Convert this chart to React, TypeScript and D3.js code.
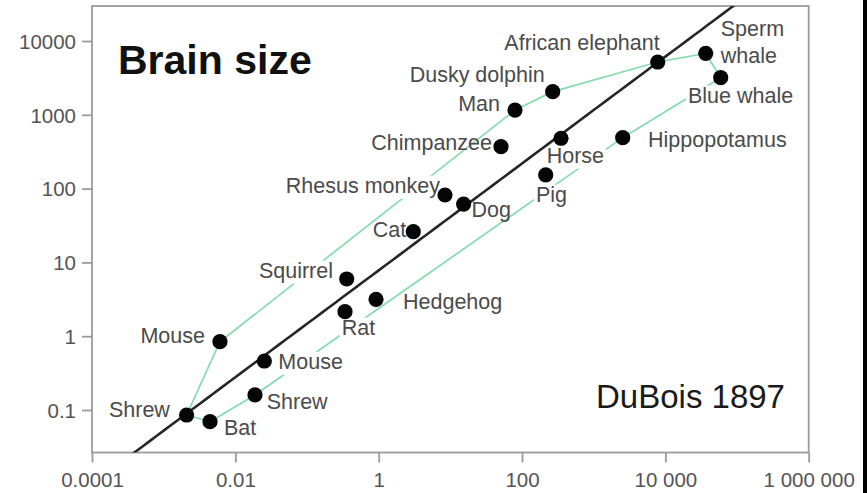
import React, { useEffect, useRef } from "react";
import * as d3 from "d3";

// Brain mass (g) against body mass (kg), mammals, after DuBois 1897
const ANIMALS = [
  "Shrew", "Bat", "Mouse", "Shrew", "Mouse", "Rat", "Squirrel", "Hedgehog",
  "Cat", "Rhesus monkey", "Dog", "Chimpanzee", "Man", "Pig", "Dusky dolphin",
  "Horse", "Hippopotamus", "African elephant", "Sperm whale", "Blue whale",
];
const BODY_MASS = [
  0.00209, 0.00443, 0.0061, 0.0188, 0.0254, 0.339, 0.358, 0.918,
  3.04, 8.42, 15.3, 50.9, 79.8, 214, 268,
  350, 2540, 7820, 36600, 59200,
];
const BRAIN_MASS = [
  0.0855, 0.0694, 0.842, 0.16, 0.461, 2.15, 5.96, 3.16,
  26.1, 81.9, 61.8, 370, 1160, 153, 2060,
  481, 490, 5190, 6810, 3180,
];

// Indices of the animals joined by the green envelope, in drawing order
const ENVELOPE = [0, 2, 12, 14, 17, 18, 19, 16, 3, 1, 0];

// Allometric fit: brain = FIT_COEF * body ^ FIT_EXPONENT
const FIT_COEF = 7.8;
const FIT_EXPONENT = 0.724;

const X_TICKS = [0.0001, 0.01, 1, 100, 10000, 1000000];
const X_TICK_LABELS = ["0.0001", "0.01", "1", "100", "10 000", "1 000 000"];
const Y_TICKS = [0.1, 1, 10, 100, 1000, 10000];
const Y_TICK_LABELS = ["0.1", "1", "10", "100", "1000", "10000"];

const TITLE = "Brain size";
const SOURCE = "DuBois 1897";

// Label placement relative to each dot: offset, anchor, and whether it hides the envelope behind it
const LABEL_LAYOUT: { dx: number; dy: number; anchor: string; knockout: boolean; lines?: string[] }[] = [
  { dx: -16.7, dy: 2, anchor: "end", knockout: false },
  { dx: 14, dy: 13.3, anchor: "start", knockout: false },
  { dx: -15, dy: 1.3, anchor: "end", knockout: false },
  { dx: 11.7, dy: 14, anchor: "start", knockout: false },
  { dx: 14, dy: 8, anchor: "start", knockout: true },
  { dx: -3.3, dy: 23.3, anchor: "start", knockout: true },
  { dx: -13.7, dy: -1, anchor: "end", knockout: true },
  { dx: 27, dy: 9.7, anchor: "start", knockout: false },
  { dx: -7, dy: 5, anchor: "end", knockout: false },
  { dx: -5, dy: -2, anchor: "end", knockout: true },
  { dx: 8, dy: 12.7, anchor: "start", knockout: false },
  { dx: -9, dy: 3.3, anchor: "end", knockout: false },
  { dx: -15, dy: 1, anchor: "end", knockout: false },
  { dx: -9.7, dy: 27, anchor: "start", knockout: true },
  { dx: -8, dy: -10, anchor: "end", knockout: false },
  { dx: -14.3, dy: 24.7, anchor: "start", knockout: true },
  { dx: 25.3, dy: 9, anchor: "start", knockout: false },
  { dx: 2, dy: -12, anchor: "end", knockout: false },
  { dx: 15, dy: -17, anchor: "start", knockout: false, lines: ["Sperm", "whale"] },
  { dx: -32.7, dy: 25.3, anchor: "start", knockout: true },
];

const WIDTH = 867;
const HEIGHT = 493;
const PLOT = { left: 92, right: 808.7, top: 6, bottom: 452.5 };
const FONT = "'Liberation Sans', Arial, Helvetica, sans-serif";
const LABEL_SIZE = 21.5;
const TICK_SIZE = 20.5;
const AXIS_COLOR = "#9b9b9b";

export default function App() {
  const ref = useRef<SVGSVGElement | null>(null);

  useEffect(() => {
    const svg = d3.select(ref.current);
    svg.selectAll("*").remove();

    const x = d3.scaleLog().domain([0.0001, 1000000]).range([PLOT.left, PLOT.right]);
    const y = d3.scaleLog().domain([0.1, 10000]).range([410, 41]);

    svg.append("rect").attr("width", WIDTH).attr("height", HEIGHT).attr("fill", "#fff");

    svg
      .append("defs")
      .append("clipPath")
      .attr("id", "plot-clip")
      .append("rect")
      .attr("x", PLOT.left)
      .attr("y", PLOT.top)
      .attr("width", PLOT.right - PLOT.left)
      .attr("height", PLOT.bottom - PLOT.top);

    // Layers, back to front
    const axisG = svg.append("g");
    const envelopeG = svg.append("g");
    const knockG = svg.append("g");
    const fitG = svg.append("g");
    const labelG = svg.append("g");
    const dotG = svg.append("g");
    const textG = svg.append("g");

    // Frame and axes
    axisG
      .append("rect")
      .attr("x", PLOT.left)
      .attr("y", PLOT.top)
      .attr("width", PLOT.right - PLOT.left)
      .attr("height", PLOT.bottom - PLOT.top)
      .attr("fill", "none")
      .attr("stroke", AXIS_COLOR)
      .attr("stroke-width", 1.8);

    const gx = axisG
      .append("g")
      .attr("transform", `translate(0,${PLOT.bottom})`)
      .call(
        d3
          .axisBottom(x)
          .tickValues(X_TICKS)
          .tickSize(10)
          .tickFormat((_d, i) => X_TICK_LABELS[i])
      );
    gx.select(".domain").remove();
    gx.selectAll(".tick line").attr("stroke", AXIS_COLOR).attr("stroke-width", 1.8);
    gx.selectAll(".tick text")
      .attr("fill", "#555")
      .attr("font-family", FONT)
      .attr("font-size", TICK_SIZE)
      .attr("dy", null)
      .attr("y", 34.5);

    const gy = axisG
      .append("g")
      .attr("transform", `translate(${PLOT.left},0)`)
      .call(
        d3
          .axisLeft(y)
          .tickValues(Y_TICKS)
          .tickSize(10)
          .tickPadding(6)
          .tickFormat((_d, i) => Y_TICK_LABELS[i])
      );
    gy.select(".domain").remove();
    gy.selectAll(".tick line").attr("stroke", AXIS_COLOR).attr("stroke-width", 1.8);
    gy.selectAll(".tick text")
      .attr("fill", "#555")
      .attr("font-family", FONT)
      .attr("font-size", TICK_SIZE)
      .attr("dy", "0.36em");

    const pts = ANIMALS.map((_n, i) => [x(BODY_MASS[i]), y(BRAIN_MASS[i])] as [number, number]);

    // Envelope around the data
    envelopeG
      .append("path")
      .attr(
        "d",
        d3
          .line<number>()
          .x((i) => pts[i][0])
          .y((i) => pts[i][1])(ENVELOPE)
      )
      .attr("fill", "none")
      .attr("stroke", "#84dcae")
      .attr("stroke-width", 1.7)
      .attr("stroke-linejoin", "round");

    // Labels, with white knockouts where they sit on the envelope
    ANIMALS.forEach((name, i) => {
      const lay = LABEL_LAYOUT[i];
      const lines = lay.lines ?? [name];
      const [px, py] = pts[i];
      const t = labelG
        .append("text")
        .attr("x", px + lay.dx)
        .attr("y", py + lay.dy)
        .attr("text-anchor", lay.anchor)
        .attr("font-family", FONT)
        .attr("font-size", LABEL_SIZE)
        .attr("fill", "#4b4b4b");
      lines.forEach((ln, k) => {
        t.append("tspan")
          .attr("x", px + lay.dx)
          .attr("dy", k === 0 ? 0 : 27)
          .text(ln);
      });
      if (lay.knockout) {
        const bb = (t.node() as SVGTextElement).getBBox();
        const base = py + lay.dy;
        knockG
          .append("rect")
          .attr("x", bb.x - 2)
          .attr("width", bb.width + 4)
          .attr("y", base - LABEL_SIZE * 0.76 - 1)
          .attr("height", LABEL_SIZE * 0.98 + 2)
          .attr("fill", "#fff");
      }
    });

    // Fitted power law across the full x range, clipped to the frame
    const [x0, x1] = x.domain().map(Math.log10);
    const fitX = d3.range(0, 101).map((k) => Math.pow(10, x0 + ((x1 - x0) * k) / 100));
    fitG
      .append("path")
      .attr("clip-path", "url(#plot-clip)")
      .attr(
        "d",
        d3
          .line<number>()
          .x((v) => x(v))
          .y((v) => y(FIT_COEF * Math.pow(v, FIT_EXPONENT)))(fitX)
      )
      .attr("fill", "none")
      .attr("stroke", "#262626")
      .attr("stroke-width", 2.6);

    // Dots
    dotG
      .selectAll("circle")
      .data(pts)
      .join("circle")
      .attr("cx", (d) => d[0])
      .attr("cy", (d) => d[1])
      .attr("r", 7.6)
      .attr("fill", "#050505");

    // Title and source
    textG
      .append("text")
      .attr("x", 118)
      .attr("y", 74)
      .attr("font-family", FONT)
      .attr("font-weight", "bold")
      .attr("font-size", 41)
      .attr("fill", "#111")
      .text(TITLE);
    textG
      .append("text")
      .attr("x", 596)
      .attr("y", 408)
      .attr("font-family", FONT)
      .attr("font-size", 33)
      .attr("fill", "#1a1a1a")
      .text(SOURCE);

    // Dark strip along the right edge
    textG
      .append("rect")
      .attr("x", 863)
      .attr("y", 0)
      .attr("width", WIDTH - 863)
      .attr("height", HEIGHT)
      .attr("fill", "#000");
  }, []);

  return (
    <svg
      ref={ref}
      width={WIDTH}
      height={HEIGHT}
      style={{ position: "absolute", left: 0, top: 0, display: "block" }}
    />
  );
}
